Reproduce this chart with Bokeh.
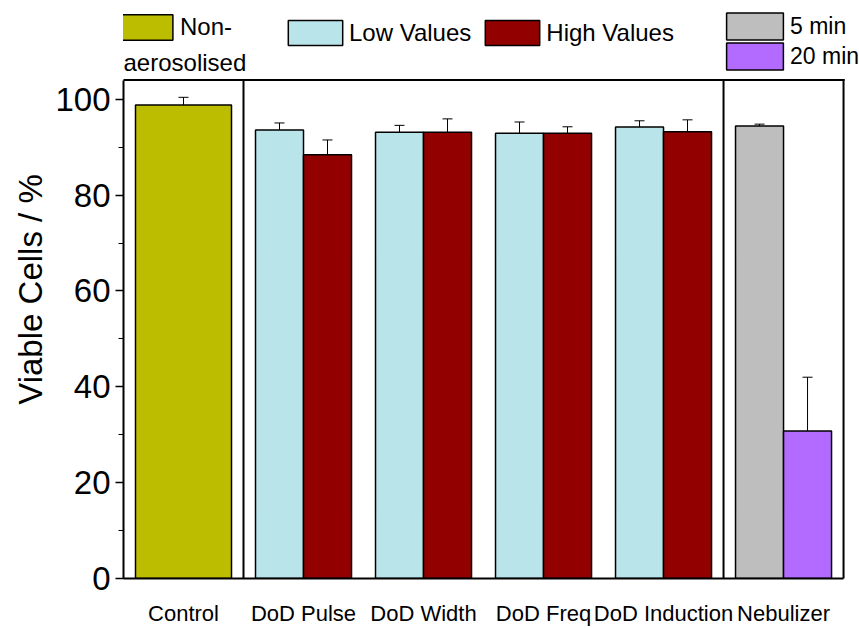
from bokeh.plotting import figure
from bokeh.models import (ColumnDataSource, Range1d, Whisker, TeeHead, Legend, LegendItem,
                          FixedTicker, SingleIntervalTicker, Label)
from bokeh.embed import file_html
from bokeh.resources import INLINE

# ---- data ----
groups = ["Control", "DoD Pulse", "DoD Width", "DoD Freq", "DoD Induction", "Nebulizer"]

control_value = [98.8]
control_err = [1.6]

dod_groups = ["DoD Pulse", "DoD Width", "DoD Freq", "DoD Induction"]
low_values = [93.6, 93.1, 92.9, 94.2]
low_err = [1.45, 1.45, 2.35, 1.3]
high_values = [88.4, 93.1, 92.9, 93.2]
high_err = [3.1, 2.8, 1.35, 2.5]

neb_labels = ["5 min", "20 min"]
neb_values = [94.4, 30.8]
neb_err = [0.4, 11.2]

FONT = "Liberation Sans"
C_OLIVE = "#BDBD00"
C_LOW = "#B9E4EA"
C_HIGH = "#930000"
C_5 = "#BEBEBE"
C_20 = "#B36BFF"

BW = 0.4
Y_MAX = 104          # top of the axes box
X_MAX = len(groups)  # right of the axes box

def gx(name):
    return groups.index(name) + 0.5

# the frame is extended upward/rightward so the legend area is inside it (not clipped)
p = figure(width=859, height=628, output_backend="svg", toolbar_location=None,
           x_range=Range1d(0, 6.133), y_range=Range1d(0, 120.6),
           min_border_left=123, min_border_right=0, min_border_top=0, min_border_bottom=48)
p.xgrid.visible = False
p.ygrid.visible = False
p.outline_line_color = None

# control
src_c = ColumnDataSource(dict(x=[gx("Control")], top=control_value,
                              upper=[v + e for v, e in zip(control_value, control_err)],
                              lower=[v - e for v, e in zip(control_value, control_err)]))
r_c = p.vbar(x="x", top="top", width=0.8, source=src_c, fill_color=C_OLIVE,
             line_color="black", line_width=1.5)

# DoD low / high
xl = [gx(g) - BW / 2 for g in dod_groups]
xh = [gx(g) + BW / 2 for g in dod_groups]
src_l = ColumnDataSource(dict(x=xl, top=low_values,
                              upper=[v + e for v, e in zip(low_values, low_err)],
                              lower=[v - e for v, e in zip(low_values, low_err)]))
src_h = ColumnDataSource(dict(x=xh, top=high_values,
                              upper=[v + e for v, e in zip(high_values, high_err)],
                              lower=[v - e for v, e in zip(high_values, high_err)]))
r_l = p.vbar(x="x", top="top", width=BW, source=src_l, fill_color=C_LOW,
             line_color="black", line_width=1.5)
r_h = p.vbar(x="x", top="top", width=BW, source=src_h, fill_color=C_HIGH,
             line_color="black", line_width=1.5)

# nebulizer
src_5 = ColumnDataSource(dict(x=[gx("Nebulizer") - BW / 2], top=[neb_values[0]],
                              upper=[neb_values[0] + neb_err[0]], lower=[neb_values[0] - neb_err[0]]))
src_20 = ColumnDataSource(dict(x=[gx("Nebulizer") + BW / 2], top=[neb_values[1]],
                               upper=[neb_values[1] + neb_err[1]], lower=[neb_values[1] - neb_err[1]]))
r_5 = p.vbar(x="x", top="top", width=BW, source=src_5, fill_color=C_5,
             line_color="black", line_width=1.5)
r_20 = p.vbar(x="x", top="top", width=BW, source=src_20, fill_color=C_20,
              line_color="black", line_width=1.5)

for s in (src_c, src_l, src_h, src_5, src_20):
    w = Whisker(source=s, base="x", upper="upper", lower="lower",
                line_color="black", line_width=1,
                upper_head=TeeHead(size=10, line_color="black", line_width=1),
                lower_head=TeeHead(size=10, line_color="black", line_width=1))
    p.add_layout(w)

# box: separators (after Control and before Nebulizer), right edge, top edge
sep_x = [1, X_MAX - 1, X_MAX]
p.segment(x0=sep_x, y0=[0] * len(sep_x), x1=sep_x, y1=[Y_MAX] * len(sep_x),
          line_color="black", line_width=2, line_cap="square")
p.segment(x0=[0], y0=[Y_MAX], x1=[X_MAX], y1=[Y_MAX],
          line_color="black", line_width=2, line_cap="square")

# axes
p.yaxis.bounds = (0, Y_MAX)
p.yaxis.ticker = SingleIntervalTicker(interval=20, num_minor_ticks=2)
p.yaxis.axis_label = "Viable Cells / %"
p.yaxis.axis_label_text_font = FONT
p.yaxis.axis_label_text_font_size = "33px"
p.yaxis.axis_label_text_font_style = "normal"
p.yaxis.axis_label_text_color = "black"
p.yaxis.axis_label_standoff = 3
p.yaxis.major_label_text_font = FONT
p.yaxis.major_label_text_font_size = "33px"
p.yaxis.major_label_text_color = "black"
p.yaxis.major_label_standoff = 5
p.yaxis.major_tick_out = 8
p.yaxis.major_tick_in = 0
p.yaxis.minor_tick_out = 5
p.yaxis.minor_tick_in = 0
p.yaxis.axis_line_width = 2
p.yaxis.major_tick_line_width = 1.5
p.yaxis.axis_line_color = "black"
p.yaxis.major_tick_line_color = "black"
p.yaxis.minor_tick_line_color = "black"

p.xaxis.bounds = (0, X_MAX)
p.xaxis.ticker = FixedTicker(ticks=[gx(g) for g in groups], minor_ticks=[])
p.xaxis.major_label_overrides = {gx(g): g for g in groups}
p.xaxis.major_label_text_font = FONT
p.xaxis.major_label_text_font_size = "22px"
p.xaxis.major_label_text_color = "black"
p.xaxis.major_label_standoff = 22
p.xaxis.major_tick_out = 0
p.xaxis.major_tick_in = 0
p.xaxis.minor_tick_out = 0
p.xaxis.axis_line_width = 2
p.xaxis.axis_line_color = "black"

# legends (location = left / bottom of the legend area, px from the frame's bottom-left)
def mk_legend(items, loc, orientation="vertical", gw=66, gh=32, spacing=0, standoff=0, fs="24px"):
    lg = Legend(items=items, location=loc, orientation=orientation,
                glyph_width=gw, glyph_height=gh, label_standoff=standoff, spacing=spacing,
                padding=0, margin=0, border_line_alpha=0, background_fill_alpha=0,
                label_text_font=FONT, label_text_font_size=fs, label_text_color="black",
                label_height=gh)
    p.add_layout(lg, "center")
    return lg

mk_legend([LegendItem(label="Non-", renderers=[r_c])], (-10, 535), gw=66, gh=32, standoff=1)
p.add_layout(Label(x=0.0, y=107.7, text="aerosolised",
                   text_font=FONT, text_font_size="24px",
                   text_align="left", text_baseline="middle", text_color="black"))
mk_legend([LegendItem(label="Low Values", renderers=[r_l]),
           LegendItem(label="High Values", renderers=[r_h])], (158, 530),
          orientation="horizontal", gw=68, gh=31, spacing=7)
mk_legend([LegendItem(label=neb_labels[0], renderers=[r_5])], (596, 535),
          gw=71, gh=34, fs="23px")
mk_legend([LegendItem(label=neb_labels[1], renderers=[r_20])], (596, 505),
          gw=71, gh=34, fs="23px")

open("out.html", "w").write(file_html(p, INLINE))
